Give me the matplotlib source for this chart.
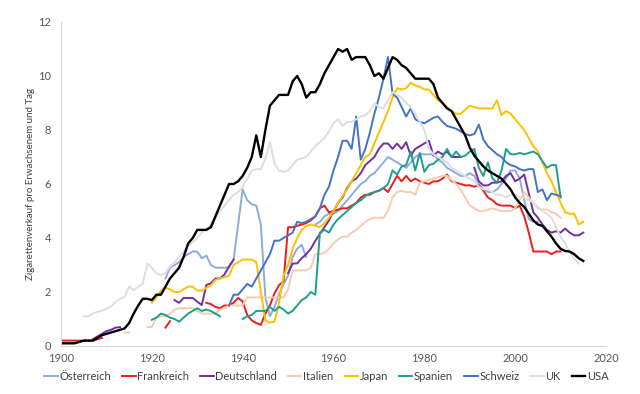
import numpy as np
import matplotlib
matplotlib.use("Agg")
import matplotlib.pyplot as plt

plt.rcParams['font.family'] = ['Lato', 'DejaVu Sans']

# cigarettes per adult and day, yearly values (None = no data)
countries = ['Österreich', 'Frankreich', 'Deutschland', 'Italien', 'Japan',
             'Spanien', 'Schweiz', 'UK', 'USA']
colors = ['#8faadc', '#ee1c1c', '#7030a0', '#f8cbad', '#ffc000',
          '#1f9e8e', '#4472c4', '#dedede', '#000000']

aut_start = 1923
aut = [2.5, 2.9, 3.0, 3.1, 3.3, 3.4, 3.5, 3.5, 3.25, 3.35,          # 1923-1932
       3.0, 2.9, 2.9, 2.9, 2.9, 3.2, 4.5, 5.8, 5.4, 5.25,            # 1933-1942
       5.2, 4.5, 1.8, 1.1, 1.45, 1.9, 2.3, 2.6, 3.3, 3.6,            # 1943-1952
       3.75, 3.3, None, 4.5, 4.6, 4.8, 4.9, 4.9, 5.0, 5.2,           # 1953-1962
       5.4, 5.6, 5.8, 6.0, 6.1, 6.3, 6.4, 6.6, 6.8, 7.0,             # 1963-1972
       6.9, 6.8, 6.7, 6.6, 6.8, 7.0, 7.1, 7.1, 7.1, 7.1,             # 1973-1982
       6.9, 6.8, 6.6, 6.5, 6.4, 6.3, 6.3, 6.4, 6.3, 6.0,             # 1983-1992
       5.8, 5.7, 5.7, 5.8, 6.0, 6.2, 6.5, 6.5, 6.2, 5.4,             # 1993-2002
       4.7, 4.6, 4.6]                                                # 2003-2005

fra_start = 1900
fra = [0.2, 0.2, 0.2, 0.2, 0.2, 0.2, 0.2, 0.2, 0.25, 0.3,           # 1900-1909
       None, None, None, None, None, None, None, None, None, None,   # 1910-1919
       None, None, None, 0.68, 0.92, None, None, None, None, None,   # 1920-1929
       None, None, 1.6, 1.55, 1.45, 1.4, 1.5, 1.5, 1.6, 1.78,        # 1930-1939
       1.65, 1.15, 0.95, 0.85, 0.78, 1.2, 1.5, 1.95, 2.25, 2.4,      # 1940-1949
       4.4, 4.4, 4.45, 4.5, 4.55, 4.65, 4.8, 5.1, 5.2, 4.95,         # 1950-1959
       5.0, 5.05, 5.1, 5.1, 5.2, 5.3, 5.5, 5.6, 5.6, 5.7,            # 1960-1969
       5.75, 5.85, 5.7, 6.0, 6.3, 6.1, 6.3, 6.1, 6.2, 6.1,           # 1970-1979
       6.05, 6.0, 6.1, 6.1, 6.2, 6.35, 6.1, 6.05, 6.0, 5.95,         # 1980-1989
       5.95, 5.9, 5.95, 5.75, 5.5, 5.4, 5.25, 5.2, 5.2, 5.2,         # 1990-1999
       5.1, 5.2, 4.8, 4.2, 3.5, 3.5, 3.5, 3.5, 3.4, 3.5,             # 2000-2009
       3.5]                                                          # 2010

deu_start = 1907
deu = [0.25, 0.35, 0.45, 0.55, 0.6, 0.68, 0.7,                        # 1907-1913
       None, None, None, None, None, None, None, None, None, None,   # 1914-1923
       None, 1.7, 1.6, 1.78, 1.78, 1.78, 1.64, 1.52, 2.26, 2.32,     # 1924-1933
       2.5, 2.5, 2.65, 2.95, 3.2, None, None, None, None, None,      # 1934-1943
       None, None, None, None, None, None, 2.7, 3.05, 3.06, 3.25,    # 1944-1953
       3.4, 3.6, 3.9, 4.15, 4.4, 4.65, 5.0, 5.3, 5.5, 5.85,          # 1954-1963
       6.1, 6.2, 6.4, 6.7, 6.85, 7.0, 7.3, 7.5, 7.5, 7.3,            # 1964-1973
       7.5, 7.3, 7.55, 7.05, 7.3, 7.4, 7.5, 7.6, 7.05, 7.2,          # 1974-1983
       7.1, 7.2, 7.0, 7.0, 7.0, None, None, 6.6, 6.1, 5.95,          # 1984-1993
       5.95, 6.05, 6.05, 6.1, 6.3, 6.4, 6.1, 6.2, 6.35, 5.65,        # 1994-2003
       4.95, 4.75, 4.5, 4.3, 4.2, 4.25, 4.2, 4.35, 4.2, 4.1,         # 2004-2013
       4.1, 4.2]                                                     # 2014-2015

ita_start = 1914
ita = [0.5, 0.5, None, None, None, 0.7, 0.7, 1.05, 1.1, 1.1,         # 1914-1923
       1.2, 1.35, 1.4, 1.4, 1.4, 1.4, 1.3, 1.2, 1.2, 1.2,            # 1924-1933
       1.2, 1.35, 1.4, 1.5, 1.5, 1.5, 1.5, 1.8, 1.8, 1.8,            # 1934-1943
       1.8, 1.8, 1.8, 1.8, 1.8, 1.8, 2.1, 2.8, 2.8, 2.8,             # 1944-1953
       2.8, 2.9, 3.4, 3.4, 3.45, 3.6, 3.8, 3.95, 4.05, 4.05,         # 1954-1963
       4.2, 4.3, 4.45, 4.6, 4.7, 4.75, 4.75, 4.75, 5.0, 5.5,         # 1964-1973
       5.7, 5.75, 5.7, 5.7, 5.6, 6.05, 6.1, 6.15, 6.2, 6.25,         # 1974-1983
       6.3, 6.3, 6.15, 6.0, 5.8, 5.5, 5.2, 5.1, 5.0, 5.0,            # 1984-1993
       5.05, 5.1, 5.05, 5.0, 5.0, 5.0, 5.1, 5.4, 5.7, 5.5,           # 1994-2003
       5.3, 5.1, 5.05, 5.05, 4.95, 4.9, 4.75]                        # 2004-2010

jpn_start = 1920
jpn = [1.6, 1.8, 2.05, 2.15, 2.1, 2.0, 2.0, 2.1, 2.2, 2.2,           # 1920-1929
       2.05, 2.05, 2.15, 2.25, 2.45, 2.5, 2.55, 2.6, 3.0, 3.1,       # 1930-1939
       3.2, 3.2, 3.2, 3.1, 2.0, 0.95, 0.87, 0.9, 1.6, 2.6,           # 1940-1949
       3.0, 3.6, 4.0, 4.3, 4.45, 4.5, 4.45, 4.4, 4.55, 4.75,         # 1950-1959
       5.0, 5.3, 5.55, 5.8, 6.1, 6.4, 6.7, 7.0, 7.1, 7.5,            # 1960-1969
       7.9, 8.3, 8.7, 9.2, 9.55, 9.5, 9.55, 9.75, 9.65, 9.6,         # 1970-1979
       9.5, 9.5, 9.3, 9.1, 9.0, 8.85, 8.7, 8.6, 8.6, 8.75,           # 1980-1989
       8.9, 8.85, 8.8, 8.8, 8.8, 8.8, 9.1, 8.55, 8.7, 8.6,           # 1990-1999
       8.4, 8.2, 8.0, 7.7, 7.4, 7.2, 6.8, 6.4, 6.1, 5.7,             # 2000-2009
       5.3, 4.95, 4.9, 4.9, 4.5, 4.6]                                # 2010-2015

esp_start = 1920
esp = [0.97, 1.05, 1.2, 1.15, 1.05, 1.0, 0.9, 1.05, 1.2, 1.3,        # 1920-1929
       1.4, 1.3, 1.35, 1.3, 1.2, 1.1, None, None, None, None,        # 1930-1939
       1.0, 1.1, 1.15, 1.3, 1.3, 1.3, 1.45, 1.3, 1.45, 1.35,         # 1940-1949
       1.2, 1.3, 1.5, 1.7, 1.8, 2.0, 1.9, 4.2, 4.3, 4.2,             # 1950-1959
       4.5, 4.7, 4.85, 5.0, 5.15, 5.3, 5.4, 5.55, 5.65, 5.7,         # 1960-1969
       5.75, 5.85, 6.0, 6.5, 6.35, 6.65, 6.7, 7.2, 6.5, 7.15,        # 1970-1979
       6.45, 6.7, 6.75, 6.9, 7.0, 7.3, 7.0, 7.2, 7.0, 7.05,          # 1980-1989
       7.2, 7.3, 6.6, 6.3, 6.8, 6.2, 6.05, 6.5, 7.3, 7.1,            # 1990-1999
       7.1, 7.15, 7.1, 7.15, 7.2, 7.1, 6.85, 6.6, 6.7, 6.7,          # 2000-2009
       5.5]                                                          # 2010

che_start = 1937
che = [1.5, 1.9, 1.9, 2.1, 2.3, 2.2, 2.5, 2.8, 3.1, 3.4,             # 1937-1946
       3.9, 3.9, 4.0, 4.1, 4.2, 4.6, 4.55, 4.6, 4.7, 4.8,            # 1947-1956
       5.1, 5.6, 5.9, 6.5, 7.0, 7.6, 7.6, 7.3, 8.5, 6.9,             # 1957-1966
       7.3, 7.9, 8.6, 9.2, 9.9, 10.7, 9.35, 9.2, 8.85, 8.5,          # 1967-1976
       8.8, 8.4, 8.3, 8.25, 8.35, 8.45, 8.5, 8.3, 8.15, 8.1,         # 1977-1986
       8.05, 7.95, 7.85, 7.8, 7.85, 8.2, 7.65, 7.4, 7.25, 7.1,       # 1987-1996
       7.0, 6.8, 6.7, 6.65, 6.55, 6.5, 6.55, 6.55, 5.7, 5.8,         # 1997-2006
       5.4, 5.65, 5.6, 5.55]                                         # 2007-2010

gbr_start = 1905
gbr = [1.1, 1.1, 1.2, 1.27, 1.3, 1.38, 1.46, 1.64, 1.75, 1.83,       # 1905-1914
       2.2, 2.07, 2.2, 2.3, 3.06, 2.88, 2.7, 2.63, 2.7, 2.94,        # 1915-1924
       3.1, 3.3, 3.5, 3.7, 3.85, 4.0, 4.2, 4.35, 4.5, 4.75,          # 1925-1934
       5.0, 5.2, 5.4, 5.6, 5.7, 5.9, 6.2, 6.5, 6.55, 6.55,           # 1935-1944
       6.95, 7.55, 6.77, 6.5, 6.45, 6.5, 6.7, 6.9, 6.95, 7.0,        # 1945-1954
       7.2, 7.4, 7.55, 7.7, 7.95, 8.25, 8.4, 8.15, 8.3, 8.3,         # 1955-1964
       8.4, 8.5, 8.55, 8.7, 9.0, 8.85, 8.8, 9.1, 9.4, 9.3,           # 1965-1974
       9.2, 9.0, 8.85, 8.6, 8.3, 8.0, 7.3, 7.1, 7.0, 6.9,            # 1975-1984
       6.8, 6.6, 6.5, 6.4, 6.3, 6.2, 6.1, 5.9, 5.8, 5.8,             # 1985-1994
       5.7, 5.6, 5.6, 5.5, 5.6, 5.6, 5.5, 5.5, 5.4, 5.3,             # 1995-2004
       5.15, 5.0, 4.9, 4.75, 4.4, 4.05, 3.8, 3.45, 3.25, 3.05]       # 2005-2014

usa_start = 1900
usa = [0.1, 0.1, 0.1, 0.1, 0.15, 0.2, 0.2, 0.2, 0.3, 0.4,            # 1900-1909
       0.45, 0.5, 0.55, 0.6, 0.65, 0.85, 1.2, 1.5, 1.75, 1.75,       # 1910-1919
       1.7, 1.9, 1.9, 2.2, 2.5, 2.7, 2.9, 3.3, 3.8, 4.0,             # 1920-1929
       4.3, 4.3, 4.3, 4.4, 4.8, 5.2, 5.6, 6.0, 6.0, 6.1,             # 1930-1939
       6.3, 6.6, 7.0, 7.8, 7.0, 8.0, 8.9, 9.1, 9.3, 9.3,             # 1940-1949
       9.3, 9.8, 10.0, 9.7, 9.2, 9.4, 9.4, 9.7, 10.1, 10.4,          # 1950-1959
       10.7, 11.0, 10.9, 11.0, 10.6, 10.7, 10.7, 10.7, 10.4, 10.0,   # 1960-1969
       10.1, 9.9, 10.3, 10.7, 10.6, 10.4, 10.3, 10.1, 9.9, 9.9,      # 1970-1979
       9.9, 9.9, 9.7, 9.2, 9.0, 8.8, 8.7, 8.4, 8.1, 7.8,             # 1980-1989
       7.35, 7.05, 6.85, 6.65, 6.5, 6.4, 6.3, 6.2, 6.0, 5.8,         # 1990-1999
       5.5, 5.3, 5.15, 4.9, 4.65, 4.5, 4.45, 4.25, 4.05, 3.8,        # 2000-2009
       3.6, 3.52, 3.5, 3.4, 3.25, 3.15]                              # 2010-2015

series = [(aut_start, aut), (fra_start, fra), (deu_start, deu), (ita_start, ita),
          (jpn_start, jpn), (esp_start, esp), (che_start, che), (gbr_start, gbr),
          (usa_start, usa)]

fig = plt.figure(figsize=(6.4, 3.94), dpi=100)
ax = fig.add_axes([61/640, 1 - 346/394, 545/640, 324/394])

for name, col, (start, vals) in zip(countries, colors, series):
    y = np.array([np.nan if v is None else v for v in vals], dtype=float)
    x = np.arange(start, start + len(y))
    lw = 1.7 if name == 'USA' else 1.4
    ax.plot(x, y, color=col, lw=lw, label=name, solid_joinstyle='round')

ax.set_xlim(1900, 2020)
ax.set_ylim(0, 12)
ax.set_xticks(np.arange(1900, 2021, 20))
ax.set_yticks(np.arange(0, 13, 2))
ax.tick_params(length=0, labelsize=8, colors='#595959')
ax.tick_params(axis='y', pad=7)
ax.tick_params(axis='x', pad=5)
for s in ['top', 'right']:
    ax.spines[s].set_visible(False)
for s in ['left', 'bottom']:
    ax.spines[s].set_color('#d9d9d9')
    ax.spines[s].set_linewidth(0.8)

ax.set_ylabel('Zigarettenverkauf pro Erwachsenem und Tag', fontsize=7,
              color='#404040', labelpad=2)

fig.legend(loc='center', bbox_to_anchor=(0.51, 1 - 376/394), ncol=9,
           frameon=False, fontsize=8, handlelength=1.2, handletextpad=0.15,
           columnspacing=1.0, labelcolor='#404040')

fig.savefig('out.png', dpi=100)
